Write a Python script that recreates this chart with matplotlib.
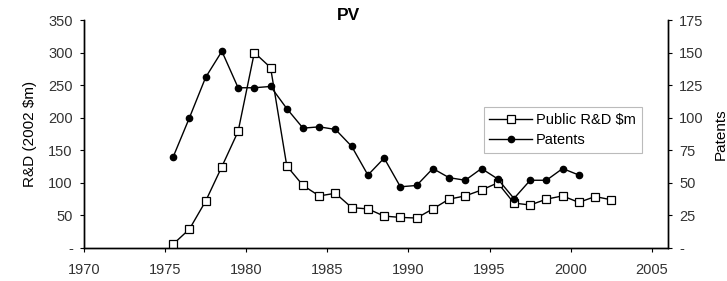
import matplotlib
matplotlib.use("Agg")
import matplotlib.pyplot as plt
import numpy as np

plt.rcParams['font.family'] = ['Liberation Sans', 'DejaVu Sans']

# Public R&D (2002 $m), 1975-2002
anos_rd = list(range(1975, 2003))
rd_publico = [6, 29, 72, 125, 179, 300, 277, 126, 96, 80, 84, 62, 60, 49, 47, 46,
              60, 75, 80, 89, 100, 69, 66, 75, 80, 70, 79, 74]

# Patents, 1975-2000
anos_pat = list(range(1975, 2001))
patentes = [70, 100, 131, 151, 123, 123, 124, 107, 92, 93, 91, 78, 56, 69, 47, 48,
            61, 54, 52, 61, 53, 38, 52, 52, 61, 56]

ticks_x = [1970, 1975, 1980, 1985, 1990, 1995, 2000, 2005]
ticks_esq = [0, 50, 100, 150, 200, 250, 300, 350]
ticks_dir = [0, 25, 50, 75, 100, 125, 150, 175]

cor_texto = '#333333'

fig = plt.figure(figsize=(7.27, 2.81), dpi=100)
ax = fig.add_axes([0.1155, 0.1174, 0.8035, 0.8114])
ax2 = ax.twinx()

# pontos marcados no meio do ano
x_rd = np.array(anos_rd) + 0.5
x_pat = np.array(anos_pat) + 0.5

l1, = ax.plot(x_rd, rd_publico, color='black', lw=1.0, marker='s', ms=5.5,
              mfc='white', mec='black', mew=0.9, label='Public R&D $m', zorder=3)
l2, = ax2.plot(x_pat, patentes, color='black', lw=1.0, marker='o', ms=4.5,
               mfc='black', mec='black', label='Patents', zorder=3)

ax.set_xlim(1970, 2006)
ax.set_ylim(0, 350)
ax2.set_ylim(0, 175)

ax.set_xticks(ticks_x)
ax.set_yticks(ticks_esq)
ax.set_yticklabels(['-'] + [str(v) for v in ticks_esq[1:]])
ax2.set_yticks(ticks_dir)
ax2.set_yticklabels(['-'] + [str(v) for v in ticks_dir[1:]])

for a in (ax, ax2):
    a.spines['top'].set_visible(False)
    for s in a.spines.values():
        s.set_linewidth(1.0)
    a.tick_params(labelsize=10.5, colors='black', labelcolor=cor_texto,
                  length=3, width=0.8, direction='out', pad=5)
ax.tick_params(axis='x', pad=8)

ax.set_ylabel('R&D (2002 $m)', fontsize=11, color='black', labelpad=8)
ax2.set_ylabel('Patents', fontsize=11, color='black', labelpad=7)
fig.text(348 / 727, 1 - 15 / 281, 'PV', fontsize=12.5, fontweight='bold',
         ha='center', va='center')

leg = ax.legend(handles=[l1, l2], loc='upper left', bbox_to_anchor=(0.684, 0.617),
                fontsize=10.5, frameon=True, fancybox=False, borderpad=0.4,
                handlelength=2.9, handletextpad=0.3, labelspacing=0.4,
                borderaxespad=0)
leg.get_frame().set_edgecolor('#aaaaaa')
leg.get_frame().set_linewidth(0.8)

fig.savefig('out.png', dpi=100)
